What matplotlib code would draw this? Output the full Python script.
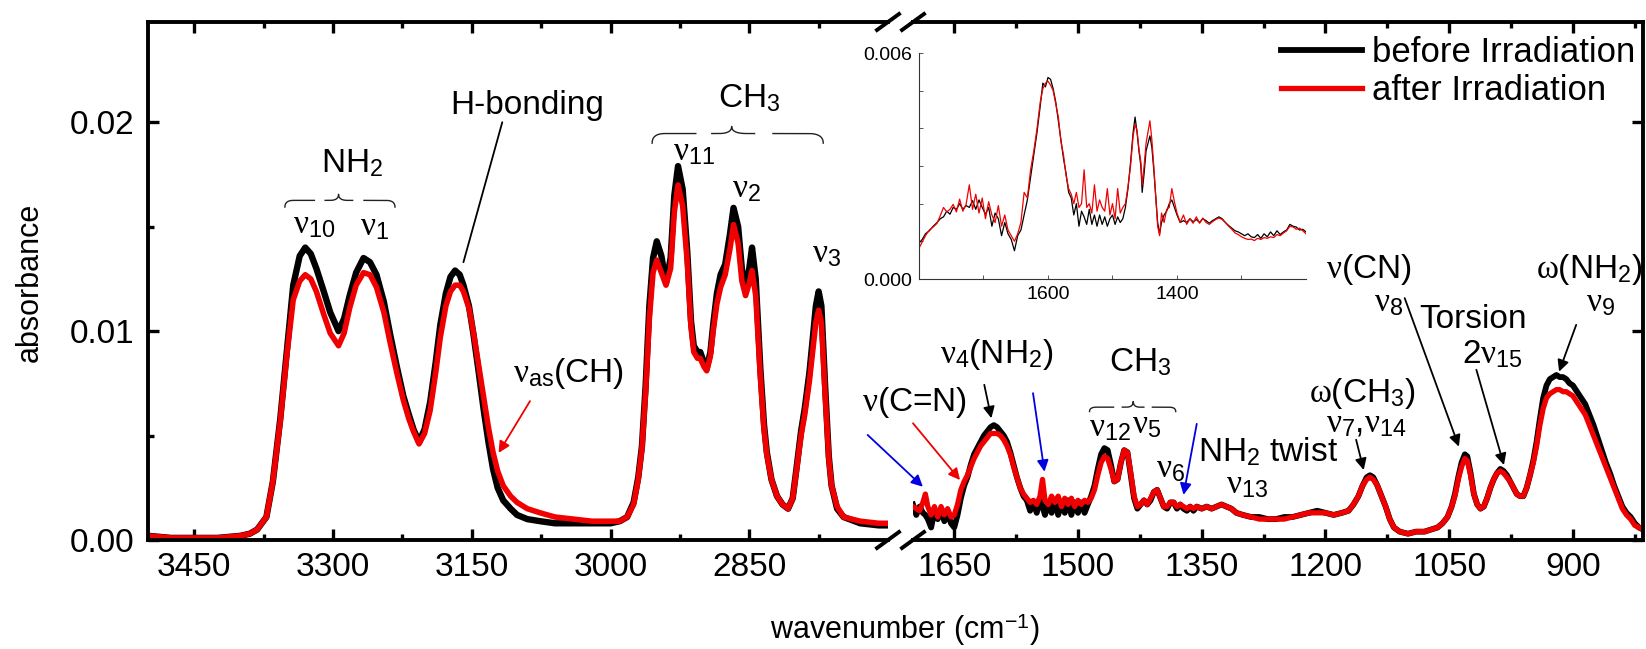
import numpy as np
import matplotlib
matplotlib.use("Agg")
import matplotlib.pyplot as plt
from matplotlib.lines import Line2D
from matplotlib.ticker import FixedLocator, FormatStrFormatter, MultipleLocator

plt.rcParams['font.family'] = ['Liberation Sans', 'DejaVu Sans']
plt.rcParams['mathtext.fontset'] = 'custom'
plt.rcParams['mathtext.rm'] = 'Liberation Sans'
plt.rcParams['mathtext.it'] = 'Liberation Serif'
plt.rcParams['mathtext.bf'] = 'Liberation Sans:bold'
plt.rcParams['mathtext.sf'] = 'Liberation Sans'

# ---------------- data ----------------
left_wn = [3500, 3475, 3450, 3425, 3400, 3390, 3382, 3372, 3365, 3357, 3350, 3343, 3336, 3330,
           3324, 3318, 3310, 3303, 3294, 3288, 3282, 3275, 3267, 3260, 3253, 3245, 3238, 3231,
           3224, 3218, 3213, 3207, 3201, 3195, 3189, 3184, 3178, 3173, 3168, 3163, 3159, 3153,
           3148, 3143, 3137, 3132, 3127, 3122, 3116, 3108, 3101, 3090, 3076, 3060, 3040, 3020,
           3000, 2990, 2982, 2975, 2970, 2966, 2962, 2958, 2954, 2950, 2945, 2940, 2935, 2931,
           2927, 2922, 2917, 2913, 2910, 2906, 2903, 2899, 2896, 2892, 2889, 2885, 2881, 2876,
           2871, 2867, 2862, 2858, 2854, 2850, 2847, 2843, 2838, 2834, 2831, 2826, 2820, 2814,
           2808, 2803, 2799, 2794, 2790, 2785, 2781, 2778, 2775, 2772, 2768, 2764, 2761, 2755,
           2748, 2730, 2710, 2700]
left_before = [0.0002, 0.0001, 0.0001, 0.0001, 0.0002, 0.0003, 0.0005, 0.0011, 0.0028, 0.0058,
               0.0090, 0.0122, 0.0136, 0.0140, 0.0137, 0.0130, 0.0119, 0.0109, 0.0100, 0.0106,
               0.0117, 0.0128, 0.0135, 0.0133, 0.0127, 0.0114, 0.0098, 0.0083, 0.0069, 0.0060,
               0.0053, 0.0047, 0.0053, 0.0066, 0.0085, 0.0103, 0.0118, 0.0126, 0.0129, 0.0127,
               0.0122, 0.0112, 0.0098, 0.0082, 0.0062, 0.0047, 0.0034, 0.0025, 0.0019, 0.0015,
               0.0012, 0.0010, 0.0009, 0.0008, 0.0008, 0.0008, 0.0008, 0.0009, 0.0011, 0.0018,
               0.0030, 0.0045, 0.0074, 0.0112, 0.0135, 0.0143, 0.0136, 0.0123, 0.0135, 0.0165,
               0.0179, 0.0168, 0.0138, 0.0105, 0.0093, 0.0090, 0.0090, 0.0085, 0.0082, 0.0090,
               0.0103, 0.0118, 0.0127, 0.0132, 0.0146, 0.0159, 0.0150, 0.0130, 0.0119, 0.0130,
               0.0140, 0.0125, 0.0082, 0.0055, 0.0042, 0.0029, 0.0021, 0.0017, 0.0015, 0.0020,
               0.0034, 0.0052, 0.0063, 0.0080, 0.0098, 0.0112, 0.0119, 0.0112, 0.0074, 0.0040,
               0.0026, 0.0015, 0.0011, 0.0008, 0.0007, 0.0007]
left_after = [0.0002, 0.0001, 0.0001, 0.0001, 0.0002, 0.0003, 0.0005, 0.0011, 0.0028, 0.0057,
              0.0088, 0.0115, 0.0124, 0.0127, 0.0125, 0.0119, 0.0108, 0.0099, 0.0093, 0.0099,
              0.0111, 0.0122, 0.0128, 0.0127, 0.0121, 0.0109, 0.0094, 0.0080, 0.0067, 0.0058,
              0.0052, 0.0046, 0.0051, 0.0062, 0.0080, 0.0097, 0.0112, 0.0119, 0.0122, 0.0122,
              0.0119, 0.0111, 0.0099, 0.0085, 0.0068, 0.0054, 0.0042, 0.0033, 0.0026, 0.0021,
              0.0018, 0.0015, 0.0013, 0.0011, 0.0010, 0.0009, 0.0009, 0.0009, 0.0011, 0.0017,
              0.0029, 0.0044, 0.0071, 0.0106, 0.0128, 0.0134, 0.0128, 0.0122, 0.0130, 0.0157,
              0.0170, 0.0160, 0.0133, 0.0102, 0.0090, 0.0087, 0.0087, 0.0083, 0.0081, 0.0088,
              0.0100, 0.0113, 0.0121, 0.0127, 0.0139, 0.0151, 0.0142, 0.0124, 0.0117, 0.0123,
              0.0129, 0.0117, 0.0078, 0.0053, 0.0041, 0.0029, 0.0021, 0.0017, 0.0015, 0.0020,
              0.0033, 0.0050, 0.0060, 0.0076, 0.0092, 0.0104, 0.0110, 0.0104, 0.0070, 0.0039,
              0.0026, 0.0016, 0.0011, 0.0009, 0.0008, 0.0008]

right_wn = [1700, 1696, 1692, 1688, 1685, 1682, 1678, 1674, 1670, 1666, 1662, 1658, 1654, 1650,
            1646, 1642, 1638, 1634, 1630, 1626, 1622, 1618, 1614, 1610, 1606, 1602, 1598, 1594,
            1590, 1586, 1582, 1578, 1574, 1570, 1566, 1562, 1558, 1554, 1550, 1546, 1543, 1540,
            1536, 1532, 1528, 1524, 1520, 1516, 1512, 1508, 1504, 1500, 1496, 1492, 1488, 1484,
            1480, 1476, 1472, 1468, 1464, 1460, 1456, 1452, 1448, 1444, 1440, 1436, 1432, 1428,
            1424, 1420, 1416, 1412, 1408, 1404, 1400, 1396, 1392, 1388, 1384, 1380, 1376, 1372,
            1368, 1364, 1360, 1356, 1350, 1344, 1338, 1332, 1326, 1320, 1314, 1308, 1300, 1290,
            1280, 1270, 1260, 1250, 1240, 1230, 1220, 1210, 1200, 1190, 1180, 1172, 1166, 1160,
            1155, 1150, 1146, 1142, 1137, 1132, 1127, 1122, 1117, 1110, 1100, 1090, 1080, 1072,
            1064, 1058, 1052, 1047, 1043, 1039, 1035, 1031, 1028, 1024, 1020, 1016, 1012, 1008,
            1004, 1000, 996, 992, 988, 984, 980, 976, 972, 968, 964, 960, 956, 952, 948, 944,
            940, 936, 932, 928, 924, 920, 916, 912, 908, 904, 900, 895, 890, 885, 880, 875,
            870, 865, 860, 855, 850, 845, 840, 835, 830, 825, 820, 815]
right_before = [0.0017, 0.0012, 0.0016, 0.0013, 0.0012, 0.0010, 0.0006, 0.0014, 0.0010, 0.0015,
                0.0009, 0.0013, 0.0008, 0.0006, 0.0012, 0.0020, 0.0026, 0.0030, 0.0036, 0.0041,
                0.0044, 0.0047, 0.0050, 0.0052, 0.0054, 0.0055, 0.0054, 0.0052, 0.0050, 0.0047,
                0.0042, 0.0036, 0.0030, 0.0025, 0.0021, 0.0019, 0.0014, 0.0018, 0.0013, 0.0019,
                0.0016, 0.0012, 0.0018, 0.0013, 0.0019, 0.0012, 0.0018, 0.0013, 0.0019, 0.0012,
                0.0018, 0.0013, 0.0018, 0.0013, 0.0017, 0.0021, 0.0026, 0.0034, 0.0041, 0.0044,
                0.0043, 0.0036, 0.0028, 0.0029, 0.0037, 0.0043, 0.0042, 0.0031, 0.0020, 0.0015,
                0.0017, 0.0019, 0.0017, 0.0019, 0.0023, 0.0024, 0.0020, 0.0016, 0.0015, 0.0018,
                0.0018, 0.0015, 0.0017, 0.0015, 0.0014, 0.0016, 0.0014, 0.0016, 0.0015, 0.0016,
                0.0015, 0.0016, 0.0017, 0.0016, 0.0015, 0.0013, 0.0012, 0.0011, 0.0011, 0.0010,
                0.0010, 0.0011, 0.0011, 0.0012, 0.0013, 0.0014, 0.0013, 0.0012, 0.0013, 0.0014,
                0.0017, 0.0021, 0.0026, 0.0030, 0.0031, 0.0030, 0.0026, 0.0021, 0.0016, 0.0010,
                0.0006, 0.0004, 0.0003, 0.0004, 0.0004, 0.0005, 0.0006, 0.0008, 0.0011, 0.0016,
                0.0022, 0.0030, 0.0037, 0.0041, 0.0040, 0.0032, 0.0022, 0.0017, 0.0015, 0.0016,
                0.0020, 0.0025, 0.0029, 0.0032, 0.0034, 0.0033, 0.0031, 0.0028, 0.0025, 0.0022,
                0.0021, 0.0021, 0.0025, 0.0031, 0.0038, 0.0047, 0.0058, 0.0068, 0.0074, 0.0077,
                0.0078, 0.0079, 0.0078, 0.0078, 0.0077, 0.0075, 0.0074, 0.0071, 0.0068, 0.0065,
                0.0060, 0.0055, 0.0049, 0.0043, 0.0037, 0.0032, 0.0026, 0.0021, 0.0016, 0.0013,
                0.0011, 0.0008, 0.0006, 0.0005]
right_after = [0.0016, 0.0015, 0.0014, 0.0018, 0.0022, 0.0016, 0.0012, 0.0016, 0.0011, 0.0016,
               0.0012, 0.0015, 0.0011, 0.0012, 0.0017, 0.0024, 0.0028, 0.0031, 0.0035, 0.0039,
               0.0042, 0.0045, 0.0047, 0.0049, 0.0051, 0.0051, 0.0051, 0.0050, 0.0048, 0.0045,
               0.0041, 0.0035, 0.0030, 0.0025, 0.0022, 0.0020, 0.0018, 0.0019, 0.0017, 0.0021,
               0.0029, 0.0019, 0.0017, 0.0021, 0.0018, 0.0021, 0.0016, 0.0020, 0.0017, 0.0020,
               0.0016, 0.0019, 0.0017, 0.0019, 0.0018, 0.0020, 0.0024, 0.0031, 0.0037, 0.0040,
               0.0039, 0.0034, 0.0028, 0.0029, 0.0037, 0.0043, 0.0042, 0.0032, 0.0021, 0.0016,
               0.0017, 0.0019, 0.0017, 0.0020, 0.0023, 0.0024, 0.0020, 0.0016, 0.0016, 0.0018,
               0.0018, 0.0016, 0.0017, 0.0016, 0.0015, 0.0016, 0.0015, 0.0016, 0.0015, 0.0016,
               0.0015, 0.0016, 0.0017, 0.0016, 0.0015, 0.0013, 0.0012, 0.0011, 0.0010, 0.0010,
               0.0010, 0.0010, 0.0011, 0.0012, 0.0013, 0.0013, 0.0013, 0.0012, 0.0013, 0.0014,
               0.0017, 0.0021, 0.0026, 0.0029, 0.0030, 0.0029, 0.0026, 0.0021, 0.0016, 0.0010,
               0.0006, 0.0004, 0.0003, 0.0004, 0.0004, 0.0005, 0.0006, 0.0008, 0.0011, 0.0016,
               0.0021, 0.0029, 0.0035, 0.0039, 0.0038, 0.0031, 0.0022, 0.0017, 0.0015, 0.0016,
               0.0020, 0.0025, 0.0029, 0.0032, 0.0033, 0.0032, 0.0030, 0.0028, 0.0025, 0.0022,
               0.0021, 0.0021, 0.0025, 0.0031, 0.0037, 0.0045, 0.0055, 0.0063, 0.0068, 0.0070,
               0.0071, 0.0072, 0.0072, 0.0071, 0.0071, 0.0070, 0.0069, 0.0066, 0.0063, 0.0060,
               0.0055, 0.0050, 0.0045, 0.0040, 0.0035, 0.0030, 0.0025, 0.0020, 0.0015, 0.0012,
               0.0010, 0.0007, 0.0006, 0.0005]

inset_wn = [1800, 1795, 1790, 1784, 1778, 1772, 1767, 1762, 1757, 1752, 1747, 1742, 1737, 1732,
            1727, 1722, 1717, 1712, 1707, 1702, 1697, 1692, 1687, 1682, 1677, 1672, 1667, 1662,
            1657, 1652, 1647, 1642, 1637, 1632, 1627, 1622, 1617, 1612, 1608, 1604, 1600, 1596,
            1592, 1588, 1584, 1580, 1576, 1572, 1568, 1564, 1560, 1556, 1552, 1548, 1544, 1540,
            1536, 1532, 1528, 1524, 1520, 1516, 1512, 1508, 1504, 1500, 1496, 1492, 1488, 1484,
            1480, 1476, 1472, 1468, 1465, 1462, 1459, 1456, 1454, 1451, 1448, 1445, 1442, 1439,
            1436, 1433, 1430, 1427, 1424, 1420, 1416, 1412, 1408, 1404, 1400, 1395, 1390, 1385,
            1380, 1375, 1370, 1365, 1360, 1355, 1350, 1345, 1340, 1335, 1330, 1325, 1320, 1315,
            1310, 1305, 1300, 1295, 1290, 1285, 1280, 1275, 1270, 1265, 1260, 1255, 1250, 1245,
            1240, 1235, 1230, 1225, 1220, 1215, 1210, 1205, 1200]
inset_before = [0.00095, 0.00105, 0.00120, 0.00128, 0.00140, 0.00150, 0.00160, 0.00165, 0.00180,
                0.00172, 0.00190, 0.00185, 0.00200, 0.00185, 0.00195, 0.00190, 0.00208, 0.00185,
                0.00210, 0.00190, 0.00172, 0.00190, 0.00140, 0.00175, 0.00160, 0.00115, 0.00150,
                0.00120, 0.00105, 0.00075, 0.00115, 0.00130, 0.00170, 0.00210, 0.00270, 0.00330,
                0.00390, 0.00460, 0.00520, 0.00510, 0.00535, 0.00530, 0.00505, 0.00470, 0.00420,
                0.00370, 0.00320, 0.00280, 0.00230, 0.00215, 0.00170, 0.00200, 0.00140, 0.00180,
                0.00165, 0.00145, 0.00185, 0.00145, 0.00170, 0.00140, 0.00170, 0.00145, 0.00165,
                0.00140, 0.00160, 0.00170, 0.00145, 0.00165, 0.00150, 0.00160, 0.00190, 0.00240,
                0.00310, 0.00390, 0.00430, 0.00390, 0.00340, 0.00300, 0.00230, 0.00280, 0.00340,
                0.00360, 0.00380, 0.00350, 0.00290, 0.00220, 0.00150, 0.00120, 0.00150, 0.00170,
                0.00180, 0.00200, 0.00210, 0.00190, 0.00170, 0.00150, 0.00155, 0.00150, 0.00160,
                0.00152, 0.00158, 0.00150, 0.00160, 0.00155, 0.00148, 0.00155, 0.00160, 0.00165,
                0.00160, 0.00150, 0.00142, 0.00135, 0.00128, 0.00125, 0.00120, 0.00115, 0.00120,
                0.00112, 0.00110, 0.00118, 0.00108, 0.00120, 0.00112, 0.00125, 0.00115, 0.00128,
                0.00118, 0.00125, 0.00130, 0.00145, 0.00140, 0.00138, 0.00130, 0.00132, 0.00125]
inset_after = [0.00082, 0.00098, 0.00115, 0.00130, 0.00138, 0.00148, 0.00168, 0.00190, 0.00178,
               0.00185, 0.00198, 0.00178, 0.00212, 0.00180, 0.00198, 0.00250, 0.00185, 0.00225,
               0.00175, 0.00215, 0.00160, 0.00205, 0.00170, 0.00150, 0.00195, 0.00140, 0.00170,
               0.00130, 0.00115, 0.00100, 0.00120, 0.00150, 0.00230, 0.00215, 0.00290, 0.00340,
               0.00400, 0.00470, 0.00505, 0.00520, 0.00525, 0.00515, 0.00500, 0.00465, 0.00430,
               0.00365, 0.00330, 0.00275, 0.00240, 0.00225, 0.00200, 0.00230, 0.00190, 0.00200,
               0.00290, 0.00190, 0.00200, 0.00175, 0.00250, 0.00180, 0.00210, 0.00190, 0.00180,
               0.00240, 0.00170, 0.00200, 0.00160, 0.00240, 0.00175, 0.00190, 0.00200, 0.00245,
               0.00300, 0.00380, 0.00410, 0.00395, 0.00345, 0.00310, 0.00250, 0.00300, 0.00360,
               0.00390, 0.00420, 0.00370, 0.00300, 0.00220, 0.00140, 0.00115, 0.00175, 0.00150,
               0.00185, 0.00190, 0.00240, 0.00205, 0.00175, 0.00150, 0.00170, 0.00145, 0.00160,
               0.00148, 0.00165, 0.00148, 0.00162, 0.00150, 0.00145, 0.00152, 0.00158, 0.00162,
               0.00158, 0.00150, 0.00140, 0.00132, 0.00122, 0.00118, 0.00112, 0.00108, 0.00105,
               0.00106, 0.00102, 0.00108, 0.00105, 0.00110, 0.00108, 0.00112, 0.00110, 0.00118,
               0.00115, 0.00122, 0.00128, 0.00140, 0.00138, 0.00132, 0.00135, 0.00128, 0.00120]

left_major = [3450, 3300, 3150, 3000, 2850]
left_minor = [3375, 3225, 3075, 2925, 2775]
right_major = [1650, 1500, 1350, 1200, 1050, 900]
right_minor = [1575, 1425, 1275, 1125, 975, 825]
y_major = [0.0, 0.01, 0.02]
y_minor = [0.005, 0.015]
inset_xmajor = [1600, 1400]
inset_xminor = [1700, 1500, 1300]
inset_ymajor = [0.0, 0.006]
series_labels = ['before Irradiation', 'after Irradiation']

# ---------------- figure ----------------
W, H = 1646, 649
fig = plt.figure(figsize=(W / 100, H / 100), dpi=100)

def px(x0, y_top, x1, y_bot):
    return [x0 / W, 1 - y_bot / H, (x1 - x0) / W, (y_bot - y_top) / H]

axL = fig.add_axes(px(148, 22, 888, 540))
axR = fig.add_axes(px(913, 22, 1643, 540))
axI = fig.add_axes(px(919, 53, 1306, 279))

BLACK = '#000000'
RED = '#f00000'
BLUE = '#0000e0'
TICKFS = 24
LABFS = 24

axL.plot(left_wn, left_before, color=BLACK, lw=4.6, solid_joinstyle='round')
axL.plot(left_wn, left_after, color=RED, lw=4.0, solid_joinstyle='round')
lb, = axR.plot(right_wn, right_before, color=BLACK, lw=4.2, solid_joinstyle='round')
la, = axR.plot(right_wn, right_after, color=RED, lw=3.8, solid_joinstyle='round')

ymax = 0.0248
axL.set_xlim(3500, 2700)
axR.set_xlim(1700, 815)
for ax in (axL, axR):
    ax.set_ylim(0, ymax)
    for s in ax.spines.values():
        s.set_linewidth(2.8)
    ax.tick_params(which='major', direction='in', length=8, width=2.4,
                   labelsize=TICKFS, pad=9, top=True)
    ax.tick_params(which='minor', direction='in', length=4.5, width=2.4, top=True)
    ax.yaxis.set_major_locator(FixedLocator(y_major))
    ax.yaxis.set_minor_locator(FixedLocator(y_minor))
    ax.patch.set_alpha(0)

axL.xaxis.set_major_locator(FixedLocator(left_major))
axL.xaxis.set_minor_locator(FixedLocator(left_minor))
axR.xaxis.set_major_locator(FixedLocator(right_major))
axR.xaxis.set_minor_locator(FixedLocator(right_minor))
axL.yaxis.set_major_formatter(FormatStrFormatter('%.2f'))
axL.spines['right'].set_visible(False)
axL.tick_params(axis='y', which='both', right=False, pad=10)
axR.spines['left'].set_visible(False)
axR.tick_params(axis='y', which='major', left=False, right=True, labelleft=False)
axR.tick_params(axis='y', which='minor', left=False, right=False)

# break marks
for ax, side in ((axL, 'x1'), (axR, 'x0')):
    pos = ax.get_position()
    cx = getattr(pos, side)
    for cy in (pos.y0, pos.y1):
        fig.add_artist(Line2D([cx - 11 / W, cx + 11 / W], [cy - 8 / H, cy + 8 / H],
                              transform=fig.transFigure, color='black', lw=2.8))

# axis labels
fig.text(30 / W, 1 - 282 / H, 'absorbance', rotation=90, ha='center', va='center', fontsize=22)
fig.text(905 / W, 1 - 630 / H, r'wavenumber (cm$^{-1}$)', ha='center', va='center', fontsize=22)

# legend
fig.legend([lb, la], series_labels, loc='upper left', bbox_to_anchor=(1281 / W, 1 - 36.5 / H),
           bbox_transform=fig.transFigure, frameon=False, fontsize=25, handlelength=2.33,
           handletextpad=0.28, labelspacing=0.12, borderpad=0, borderaxespad=0)

# inset
axI.plot(inset_wn, inset_before, color=BLACK, lw=0.9)
axI.plot(inset_wn, inset_after, color=RED, lw=0.9)
axI.set_xlim(1800, 1200)
axI.set_ylim(0, 0.006)
axI.spines['top'].set_visible(False)
axI.spines['right'].set_visible(False)
for s in ('left', 'bottom'):
    axI.spines[s].set_linewidth(0.8)
    axI.spines[s].set_color('#333333')
axI.xaxis.set_major_locator(FixedLocator(inset_xmajor))
axI.xaxis.set_minor_locator(FixedLocator(inset_xminor))
axI.yaxis.set_major_locator(FixedLocator(inset_ymajor))
axI.yaxis.set_minor_locator(MultipleLocator(0.001))
axI.yaxis.set_major_formatter(FormatStrFormatter('%.3f'))
axI.tick_params(which='both', direction='in', length=3, width=0.7, labelsize=14, pad=5,
                color='#555555')
axI.patch.set_alpha(0)


# ---------------- annotations ----------------
def brace(ax, xa, xb, xm, y, y_hook, y_tip, gap=(0.55, 0.75)):
    n = 40
    t = np.linspace(0, 1, n)[:, None]

    def bez(p0, p1, p2):
        return (1 - t) ** 2 * np.array(p0) + 2 * (1 - t) * t * np.array(p1) + t ** 2 * np.array(p2)
    da = (xm - xa) * 0.16
    db = (xb - xm) * 0.16
    pts = np.vstack([
        bez((xa, y_hook), (xa, y), (xa + da, y)),
        np.column_stack([np.linspace(xa + da, xm - da, 4 * n), np.full(4 * n, y)]),
        bez((xm - da, y), (xm, y), (xm, y_tip)),
        bez((xm, y_tip), (xm, y), (xm + db, y)),
        np.column_stack([np.linspace(xm + db, xb - db, 4 * n), np.full(4 * n, y)]),
        bez((xb - db, y), (xb, y), (xb, y_hook)),
    ]).astype(float)
    for e in (xa, xb):
        g0 = e + (xm - e) * gap[0]
        g1 = e + (xm - e) * gap[1]
        lo, hi = min(g0, g1), max(g0, g1)
        pts[(pts[:, 0] > lo) & (pts[:, 0] < hi)] = np.nan
    ax.plot(pts[:, 0], pts[:, 1], color='#222222', lw=1.0, clip_on=False)


def arrow(ax, start, end, color, head=True):
    ax.annotate('', xy=end, xytext=start, annotation_clip=False,
                arrowprops=dict(arrowstyle='-|>' if head else '-', color=color, lw=1.3,
                                mutation_scale=17, shrinkA=0, shrinkB=0))


def label(ax, x, y, s, ha='left', fs=LABFS):
    ax.text(x, y, s, ha=ha, va='baseline', fontsize=fs, clip_on=False)


# left panel
label(axL, 3279, 0.0176, r'NH$_2$', ha='center')
brace(axL, 3352, 3233, 3294, 0.01626, 0.01594, 0.01655)
label(axL, 3343, 0.0147, r'$\nu_{10}$')
label(axL, 3271, 0.0146, r'$\nu_1$')
label(axL, 3090, 0.0204, 'H-bonding', ha='center')
arrow(axL, (3117, 0.0200), (3159, 0.0133), BLACK, head=False)
label(axL, 3105, 0.00755, r'$\nu_{\mathrm{as}}$(CH)')
arrow(axL, (3087, 0.00665), (3121, 0.00417), RED)
label(axL, 2850, 0.0207, r'CH$_3$', ha='center')
brace(axL, 2955, 2770, 2869, 0.01946, 0.0190, 0.0198)
label(axL, 2932, 0.0182, r'$\nu_{11}$')
label(axL, 2869, 0.0164, r'$\nu_2$')
label(axL, 2782, 0.0133, r'$\nu_3$')

# right panel
label(axR, 1634, 0.0062, r'$\nu$(C=N)', ha='right')
arrow(axR, (1755, 0.00503), (1688, 0.00255), BLUE)
arrow(axR, (1700, 0.00559), (1643, 0.00287), RED)
label(axR, 1667, 0.00848, r'$\nu_4$(NH$_2$)')
arrow(axR, (1613.6, 0.00743), (1605, 0.00583), BLACK)
arrow(axR, (1554.5, 0.00703), (1540.6, 0.00327), BLUE)
label(axR, 1425, 0.0081, r'CH$_3$', ha='center')
brace(axR, 1486, 1381.5, 1433, 0.00636, 0.00615, 0.00663)
label(axR, 1487, 0.00495, r'$\nu_{12}$')
label(axR, 1435, 0.00510, r'$\nu_5$')
label(axR, 1405, 0.00300, r'$\nu_6$')
arrow(axR, (1356, 0.00556), (1372, 0.00216), BLUE)
label(axR, 1354, 0.00375, r'NH$_2$ twist')
label(axR, 1320.7, 0.00225, r'$\nu_{13}$')
label(axR, 1220.5, 0.00660, r'$\omega$(CH$_3$)')
label(axR, 1199, 0.00515, r'$\nu_7$,$\nu_{14}$')
arrow(axR, (1162.8, 0.00480), (1153.6, 0.00335), BLACK)
label(axR, 1199.4, 0.01255, r'$\nu$(CN)')
label(axR, 1141.5, 0.01094, r'$\nu_8$')
label(axR, 1086.7, 0.01016, 'Torsion')
arrow(axR, (1103.9, 0.01158), (1038.2, 0.00447), BLACK)
label(axR, 1035, 0.00847, r'2$\nu_{15}$')
arrow(axR, (1017, 0.00815), (983.6, 0.00359), BLACK)
label(axR, 945.2, 0.01255, r'$\omega$(NH$_2$)')
label(axR, 884.6, 0.01094, r'$\nu_9$')
arrow(axR, (896, 0.0103), (916.7, 0.00806), BLACK)

fig.savefig('out.png', dpi=100)
